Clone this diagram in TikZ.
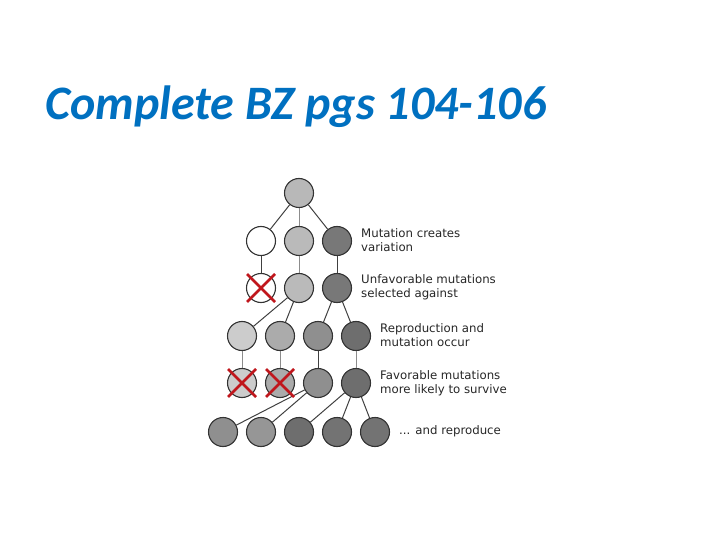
\documentclass[tikz,border=0pt]{standalone}
\usepackage{fontspec}
\setmainfont{DejaVu Sans}
\newfontfamily\titlefont{Carlito}
\usetikzlibrary{positioning}

\definecolor{titleblue}{HTML}{0070C0}
\definecolor{xred}{HTML}{C0161C}

\begin{document}
\begin{tikzpicture}[x=1bp, y=-1bp,
        cell/.style={circle, draw=black!80, line width=1.1bp, minimum size=29bp, inner sep=0pt},
        link/.style={draw=black!75, line width=1bp},
        softlink/.style={draw=black!45, line width=1bp},
        xmark/.style={draw=xred, line width=2.6bp},
        note/.style={anchor=west, align=left, font=\fontsize{11.8}{14}\selectfont, text=black!85, inner sep=0pt}]

        \useasboundingbox (0,0) rectangle (720,540);

        % Title
        \node[anchor=base west, inner sep=0pt, text=titleblue, font=\titlefont\fontsize{48.2}{54}\selectfont\bfseries\itshape] (title) at (45,120) {Complete BZ pgs 104-106};

        % Row 1
        \node[cell, fill=black!28] (g1) at (299,193) {};

        % Row 2
        \node[cell, fill=white] (g2a) at (261,241) {};
        \node[cell, fill=black!27] (g2b) at (299,241) {};
        \node[cell, fill=black!53] (g2c) at (337,241) {};
        \node[note] (t2) at (361,240) {Mutation creates\\variation};

        \draw[link] (g1) -- (g2a);
        \draw[softlink] (g1) -- (g2b);
        \draw[link] (g1) -- (g2c);

        % Row 3
        \node[cell, fill=white] (g3a) at (261,288) {};
        \node[cell, fill=black!27] (g3b) at (299,288) {};
        \node[cell, fill=black!53] (g3c) at (337,288) {};
        \node[note] (t3) at (361,287) {Unfavorable mutations\\selected against};

        \draw[link] (g2a) -- (g3a);
        \draw[softlink] (g2b) -- (g3b);
        \draw[link] (g2c) -- (g3c);

        % Row 4
        \node[cell, fill=black!20] (g4a) at (242,336) {};
        \node[cell, fill=black!33] (g4b) at (280,336) {};
        \node[cell, fill=black!44] (g4c) at (318,336) {};
        \node[cell, fill=black!57] (g4d) at (356,336) {};
        \node[note] (t4) at (380,335) {Reproduction and\\mutation occur};

        \draw[link] (g3b) -- (g4a);
        \draw[link] (g3b) -- (g4b);
        \draw[link] (g3c) -- (g4c);
        \draw[link] (g3c) -- (g4d);

        % Row 5
        \node[cell, fill=black!20] (g5a) at (242,383) {};
        \node[cell, fill=black!33] (g5b) at (280,383) {};
        \node[cell, fill=black!44] (g5c) at (318,383) {};
        \node[cell, fill=black!57] (g5d) at (356,383) {};
        \node[note] (t5) at (380,383) {Favorable mutations\\more likely to survive};

        \draw[softlink] (g4a) -- (g5a);
        \draw[softlink] (g4b) -- (g5b);
        \draw[link] (g4c) -- (g5c);
        \draw[softlink] (g4d) -- (g5d);

        % Row 6
        \node[cell, fill=black!44] (g6a) at (223,432) {};
        \node[cell, fill=black!41] (g6b) at (261,432) {};
        \node[cell, fill=black!57] (g6c) at (299,432) {};
        \node[cell, fill=black!55] (g6d) at (337,432) {};
        \node[cell, fill=black!55] (g6e) at (375,432) {};
        \node[note] (t6) at (399,431) {... and reproduce};

        \draw[link] (g5c) -- (g6a);
        \draw[link] (g5c) -- (g6b);
        \draw[link] (g5d) -- (g6c);
        \draw[link] (g5d) -- (g6d);
        \draw[link] (g5d) -- (g6e);

        % Crosses
        \draw[xmark] (g3a.center) +(-14,-14) -- +(14,14) +(-14,14) -- +(14,-14);
        \draw[xmark] (g5a.center) +(-14,-14) -- +(14,14) +(-14,14) -- +(14,-14);
        \draw[xmark] (g5b.center) +(-14,-14) -- +(14,14) +(-14,14) -- +(14,-14);

    \end{tikzpicture}
\end{document}
